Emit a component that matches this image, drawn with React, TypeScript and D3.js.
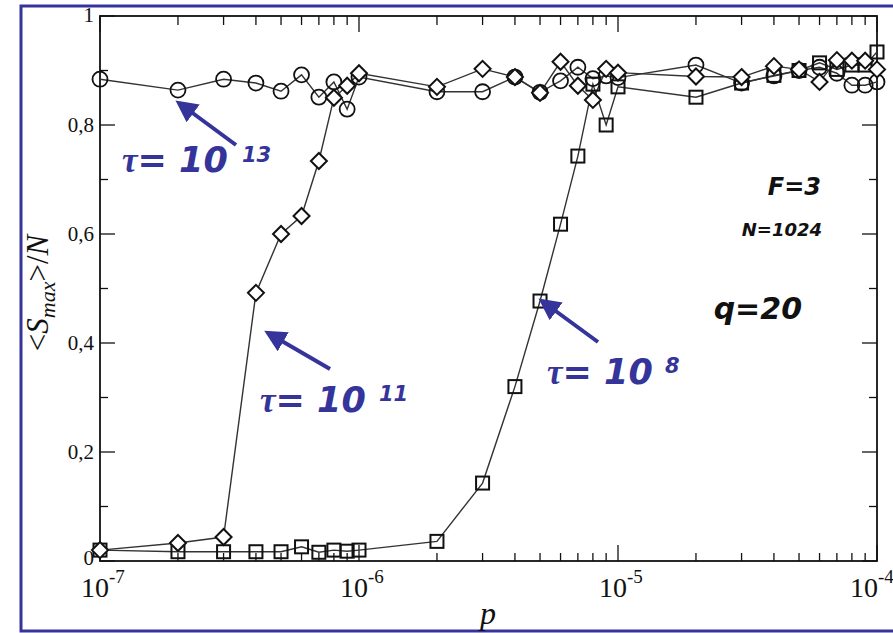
import React from "react";
import * as d3 from "d3";

// p values (log axis)
const pValues = [
  1e-7, 2e-7, 3e-7, 4e-7, 5e-7, 6e-7, 7e-7, 8e-7, 9e-7,
  1e-6, 2e-6, 3e-6, 4e-6, 5e-6, 6e-6, 7e-6, 8e-6, 9e-6,
  1e-5, 2e-5, 3e-5, 4e-5, 5e-5, 6e-5, 7e-5, 8e-5, 9e-5, 1e-4,
];

// tau = 10^13 (circles)
const tau13 = [
  0.884, 0.864, 0.884, 0.877, 0.862, 0.892, 0.851, 0.879, 0.829,
  0.888, 0.861, 0.861, 0.888, 0.86, 0.881, 0.906, 0.885, 0.89,
  0.887, 0.91, 0.877, 0.89, 0.9, 0.906, 0.895, 0.873, 0.873, 0.879,
];

// tau = 10^11 (diamonds)
const tau11 = [
  0.02, 0.033, 0.044, 0.492, 0.6, 0.633, 0.734, 0.85, 0.872,
  0.895, 0.87, 0.903, 0.888, 0.859, 0.916, 0.872, 0.846, 0.903,
  0.896, 0.889, 0.888, 0.908, 0.902, 0.879, 0.919, 0.918, 0.918, 0.902,
];

// tau = 10^8 (squares)
const tau8 = [
  0.02, 0.017, 0.017, 0.017, 0.017, 0.026, 0.016, 0.02, 0.018,
  0.02, 0.036, 0.143, 0.32, 0.477, 0.618, 0.743, 0.875, 0.8,
  0.87, 0.851, 0.877, 0.891, 0.9, 0.914, 0.902, 0.91, 0.91, 0.934,
];

const xDecades = [1e-7, 1e-6, 1e-5, 1e-4];
const xExponents = ["-7", "-6", "-5", "-4"];
const yMajor = [0, 0.2, 0.4, 0.6, 0.8, 1];
const yMajorLabels = ["0", "0,2", "0,4", "0,6", "0,8", "1"];
const yMinor = [0.1, 0.3, 0.5, 0.7, 0.9];

const W = 893;
const H = 633;
const left = 100, right = 877, top = 16, bottom = 561;
const blue = "#34349a";

export default function App() {
  const x = d3.scaleLog().domain([1e-7, 1e-4]).range([left, right]);
  const y = d3.scaleLinear().domain([0, 1]).range([bottom, top]);
  const line = d3
    .line<number>()
    .x((_, i) => x(pValues[i]))
    .y((d) => y(d));

  const xMinor = x.ticks().filter((t) => !xDecades.some((d) => Math.abs(d - t) / d < 1e-6));

  const serif = "'Liberation Serif', 'DejaVu Serif', serif";
  const annot = "'DejaVu Sans', sans-serif";

  return (
    <svg
      width={W}
      height={H}
      style={{ position: "absolute", left: 0, top: 0, background: "#fff" }}
    >
      <rect x={0} y={0} width={W} height={H} fill="#fff" />
      {/* frame */}
      <rect x={21} y={6} width={W + 20} height={H - 8} fill="none" stroke={blue} strokeWidth={3} />

      {/* axes box */}
      <rect x={left} y={top} width={right - left} height={bottom - top} fill="none" stroke="#111" strokeWidth={1.8} />

      {/* x ticks */}
      {xMinor.map((t, i) => (
        <g key={"xm" + i} stroke="#111" strokeWidth={1.3}>
          <line x1={x(t)} x2={x(t)} y1={bottom} y2={bottom - 8} />
          <line x1={x(t)} x2={x(t)} y1={top} y2={top + 9} />
        </g>
      ))}
      {xDecades.map((t, i) => (
        <g key={"xM" + i} stroke="#111" strokeWidth={1.3}>
          <line x1={x(t)} x2={x(t)} y1={bottom} y2={bottom - 16} />
          <line x1={x(t)} x2={x(t)} y1={top} y2={top + 16} />
        </g>
      ))}
      {xDecades.map((t, i) => (
        <text
          key={"xl" + i}
          x={x(t) - (i === 3 ? 27 : 19)}
          y={597}
          fontFamily={serif}
          fontSize={28}
          fill="#111"
        >
          10
          <tspan fontSize={19} dy={-14}>{xExponents[i]}</tspan>
        </text>
      ))}

      {/* y ticks */}
      {yMajor.map((t, i) => (
        <g key={"yM" + i} stroke="#111" strokeWidth={1.3}>
          <line x1={left} x2={left + 15} y1={y(t)} y2={y(t)} />
          <line x1={right} x2={right - 15} y1={y(t)} y2={y(t)} />
        </g>
      ))}
      {yMinor.map((t, i) => (
        <g key={"ym" + i} stroke="#111" strokeWidth={1.3}>
          <line x1={left} x2={left + 8} y1={y(t)} y2={y(t)} />
          <line x1={right} x2={right - 8} y1={y(t)} y2={y(t)} />
        </g>
      ))}
      {yMajor.map((t, i) => (
        <text
          key={"yl" + i}
          x={left - 6}
          y={y(t) + (i === 5 ? 6 : i === 0 ? 4 : 7)}
          textAnchor="end"
          fontFamily={serif}
          fontSize={21}
          fill="#111"
        >
          {yMajorLabels[i]}
        </text>
      ))}

      {/* axis titles */}
      <text x={488} y={624} textAnchor="middle" fontFamily={serif} fontStyle="italic" fontSize={32} fill="#111">
        p
      </text>
      <text
        transform="translate(48,293) rotate(-90)"
        textAnchor="middle"
        fontFamily={serif}
        fontSize={31}
        fill="#111"
      >
        {"<"}
        <tspan fontStyle="italic">S</tspan>
        <tspan fontStyle="italic" fontSize={22} dy={7}>max</tspan>
        <tspan dy={-7}>{">/"}</tspan>
        <tspan fontStyle="italic">N</tspan>
      </text>

      {/* series lines */}
      <path d={line(tau13) || ""} fill="none" stroke="#333" strokeWidth={1.4} />
      <path d={line(tau11) || ""} fill="none" stroke="#333" strokeWidth={1.4} />
      <path d={line(tau8) || ""} fill="none" stroke="#333" strokeWidth={1.4} />

      {/* markers */}
      {tau8.map((v, i) => (
        <rect
          key={"s" + i}
          x={x(pValues[i]) - 6.5}
          y={y(v) - 6.5}
          width={13}
          height={13}
          fill="none"
          stroke="#111"
          strokeWidth={2}
        />
      ))}
      {tau13.map((v, i) => (
        <circle key={"c" + i} cx={x(pValues[i])} cy={y(v)} r={7.5} fill="none" stroke="#111" strokeWidth={1.8} />
      ))}
      {tau11.map((v, i) => {
        const cx = x(pValues[i]);
        const cy = y(v);
        const r = 8;
        return (
          <path
            key={"d" + i}
            d={`M${cx},${cy - r}L${cx + r},${cy}L${cx},${cy + r}L${cx - r},${cy}Z`}
            fill="#fff"
            stroke="#111"
            strokeWidth={2}
          />
        );
      })}

      {/* annotations */}
      <defs>
        <marker id="ah" viewBox="0 0 10 10" refX={8} refY={5} markerWidth={5.5} markerHeight={5.5} orient="auto">
          <path d="M0,0L10,5L0,10Z" fill={blue} />
        </marker>
      </defs>
      <line x1={236} y1={145} x2={179} y2={103} stroke={blue} strokeWidth={4} markerEnd="url(#ah)" />
      <line x1={330} y1={369} x2={268} y2={333} stroke={blue} strokeWidth={4} markerEnd="url(#ah)" />
      <line x1={598} y1={342} x2={542} y2={301} stroke={blue} strokeWidth={4} markerEnd="url(#ah)" />

      <g fill={blue} fontFamily={annot} fontWeight="bold" fontStyle="italic">
        <text x={122} y={172} fontSize={35}>
          <tspan fontFamily={serif}>τ</tspan>= 10
        </text>
        <text x={242} y={162} fontSize={21}>13</text>
        <text x={260} y={412} fontSize={35}>
          <tspan fontFamily={serif}>τ</tspan>= 10
        </text>
        <text x={379} y={401} fontSize={21}>11</text>
        <text x={547} y={384} fontSize={35}>
          <tspan fontFamily={serif}>τ</tspan>= 10
        </text>
        <text x={665} y={373} fontSize={21}>8</text>
      </g>
      <g fill="#111" fontFamily={annot} fontWeight="bold" fontStyle="italic">
        <text x={821} y={195} textAnchor="end" fontSize={24}>F=3</text>
        <text x={822} y={236} textAnchor="end" fontSize={18}>N=1024</text>
        <text x={802} y={319} textAnchor="end" fontSize={30}>q=20</text>
      </g>
    </svg>
  );
}
